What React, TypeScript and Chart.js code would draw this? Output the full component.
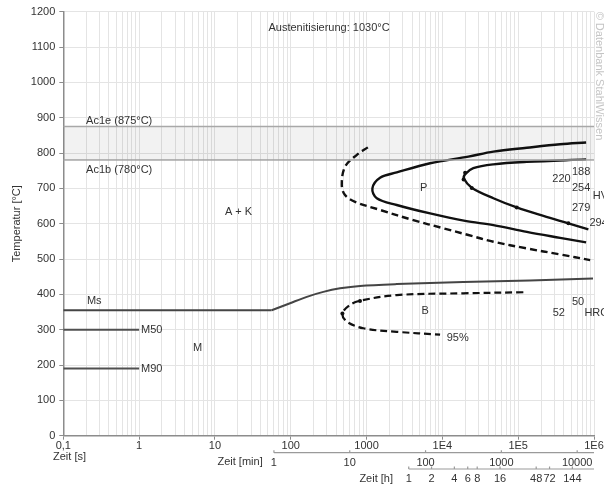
import React, { useEffect, useRef } from 'react';
import { Chart, registerables } from 'chart.js';
Chart.register(...registerables);

// ---- axis labels ----
const xLabelValues = [0.1, 1, 10, 100, 1000, 1e4, 1e5, 1e6];
const xLabelTexts = ['0,1', '1', '10', '100', '1000', '1E4', '1E5', '1E6'];
const minuteTicks = [1, 10, 100, 1000, 10000];
const hourTicks = [1, 2, 4, 6, 8, 16, 48, 72, 144];

// ---- reference temperatures ----
const ac1e = 875;
const ac1b = 780;
const m50 = 300;
const m90 = 190;

// ---- curves: [time s, temperature °C] ----
const msFlat = [[0.1, 355], [56, 355]];
const msRise = [[56, 355], [98, 375], [163, 393], [269, 407], [447, 417], [820, 424], [2500, 429], [18900, 435], [143000, 439], [970000, 445]];
const pearliteStartDashed = [[1040, 816], [745, 795], [520, 761], [471, 710], [520, 681], [705, 662], [1507, 639], [4140, 610], [10300, 587], [22000, 568], [47100, 549], [130000, 530], [357000, 513], [890000, 497]];
const pearliteOuter = [[787000, 830], [357000, 825], [130000, 815], [47100, 804], [22000, 790], [6890, 771], [2500, 745], [1507, 730], [1194, 700], [1365, 672], [2500, 653], [6890, 629], [19950, 608], [47100, 596], [130000, 577], [357000, 560], [787000, 547]];
const pearliteInner = [[787000, 782], [130000, 775], [47100, 768], [25600, 757], [19950, 740], [19300, 727], [24400, 702], [47100, 672], [95700, 646], [215000, 622], [459000, 601], [843000, 584]];
const pearliteMarkers = [[19950, 744], [19050, 725], [24400, 701], [95700, 646], [459000, 601]];
const bainite = [[117000, 406], [18900, 403], [2500, 398], [820, 382], [606, 370], [480, 346], [548, 323], [907, 304], [2500, 294], [9330, 286]];
const bainiteMarkers = [[820, 381], [480, 346]];

// ---- annotations: text, time, temperature, align ----
const annotations: [string, number, number, CanvasTextAlign][] = [
  ['Austenitisierung: 1030°C', 320, 1154, 'center'],
  ['Ac1e (875°C)', 0.2, 891, 'left'],
  ['Ac1b (780°C)', 0.2, 752, 'left'],
  ['Ms', 0.205, 382, 'left'],
  ['M50', 1.06, 300, 'left'],
  ['M90', 1.06, 190, 'left'],
  ['M', 5.14, 247, 'left'],
  ['A + K', 20.5, 634, 'center'],
  ['P', 5650, 702, 'center'],
  ['B', 5920, 353, 'center'],
  ['95%', 11400, 278, 'left'],
  ['188', 676000, 745, 'center'],
  ['220', 372000, 726, 'center'],
  ['254', 676000, 700, 'center'],
  ['HV', 964000, 679, 'left'],
  ['279', 676000, 645, 'center'],
  ['294', 869000, 601, 'left'],
  ['50', 617000, 379, 'center'],
  ['52', 344000, 346, 'center'],
  ['HRC', 747000, 346, 'left'],
];

const FONT_FAMILY = '"Liberation Sans", Arial, Helvetica, sans-serif';
const FONT = '11px ' + FONT_FAMILY;

const gridValues: number[] = [];
for (let e = -1; e < 6; e++) {
  for (let k = 1; k <= 9; k++) gridValues.push(Number((k * Math.pow(10, e)).toPrecision(6)));
}
gridValues.push(1e6);

const labelIndex = (v: number) => xLabelValues.findIndex((l) => Math.abs(l - v) / l < 1e-6);

const pts = (a: number[][]) => a.map(([x, y]) => ({ x, y }));

const overlay = {
  id: 'overlay',
  afterDraw(chart: any) {
    const { ctx, chartArea } = chart;
    const xs = chart.scales.x;
    const ys = chart.scales.y;
    ctx.save();
    ctx.font = FONT;
    ctx.fillStyle = '#333';
    ctx.textBaseline = 'middle';
    for (const [text, t, T, align] of annotations) {
      ctx.textAlign = align;
      ctx.fillText(text, xs.getPixelForValue(t), ys.getPixelForValue(T));
    }

    // y title
    ctx.save();
    ctx.translate(17, (chartArea.top + chartArea.bottom) / 2);
    ctx.rotate(-Math.PI / 2);
    ctx.textAlign = 'center';
    ctx.fillText('Temperatur [°C]', 0, 0);
    ctx.restore();

    // x titles
    ctx.textAlign = 'left';
    ctx.fillText('Zeit [s]', 53, chartArea.bottom + 21.5);

    // minutes axis
    const minY = chartArea.bottom + 17;
    ctx.strokeStyle = '#9a9a9a';
    ctx.lineWidth = 1.2;
    ctx.beginPath();
    ctx.moveTo(xs.getPixelForValue(60), minY);
    ctx.lineTo(chartArea.right, minY);
    ctx.stroke();
    ctx.textAlign = 'center';
    for (const m of minuteTicks) {
      const px = xs.getPixelForValue(m * 60);
      ctx.beginPath();
      ctx.moveTo(px, minY - 2.5);
      ctx.lineTo(px, minY);
      ctx.stroke();
      ctx.fillText(String(m), px, minY + 10);
    }
    ctx.textAlign = 'right';
    ctx.fillText('Zeit [min]', 262.7, minY + 9);

    // hours axis
    const hY = chartArea.bottom + 33.3;
    ctx.beginPath();
    ctx.moveTo(xs.getPixelForValue(3600), hY);
    ctx.lineTo(chartArea.right, hY);
    ctx.stroke();
    ctx.textAlign = 'center';
    for (const h of hourTicks) {
      const px = xs.getPixelForValue(h * 3600);
      ctx.beginPath();
      ctx.moveTo(px, hY - 2.5);
      ctx.lineTo(px, hY);
      ctx.stroke();
      ctx.fillText(String(h), px, hY + 10);
    }
    ctx.textAlign = 'right';
    ctx.fillText('Zeit [h]', 393, hY + 10);

    // watermark
    ctx.save();
    ctx.translate(chartArea.right + 5.5, chartArea.top);
    ctx.rotate(Math.PI / 2);
    ctx.textAlign = 'left';
    ctx.fillStyle = '#c4c4c4';
    ctx.fillText('© Datenbank StahlWissen', 0, 0);
    ctx.restore();

    ctx.restore();
  },
};

export default function App() {
  const ref = useRef<HTMLCanvasElement>(null);
  useEffect(() => {
    if (!ref.current) return;
    const black = '#111';
    const dash = [7, 4];
    const line = (data: number[][], color: string, width: number, extra: any = {}) => ({
      data: pts(data),
      borderColor: color,
      borderWidth: width,
      pointRadius: 0,
      tension: 0.35,
      fill: false,
      ...extra,
    });
    const chart = new Chart(ref.current, {
      type: 'line',
      data: {
        datasets: [
          line([[0.1, ac1e], [1e6, ac1e]], '#a8a8a8', 1.5, { tension: 0, fill: '+1', backgroundColor: 'rgba(0,0,0,0.05)' }),
          line([[0.1, ac1b], [1e6, ac1b]], '#a8a8a8', 1.5, { tension: 0 }),
          line(msFlat, '#454545', 2, { tension: 0 }),
          line(msRise, '#454545', 2, { tension: 0.3 }),
          line([[0.1, m50], [1, m50]], '#505050', 2, { tension: 0 }),
          line([[0.1, m90], [1, m90]], '#505050', 2, { tension: 0 }),
          line(pearliteStartDashed, black, 2.4, { borderDash: dash }),
          line(pearliteOuter, black, 2.4),
          line(pearliteInner, black, 2.4),
          line(bainite, black, 2.2, { borderDash: dash }),
          { data: pts(pearliteMarkers), showLine: false, pointRadius: 2, pointBackgroundColor: black, pointBorderWidth: 0, borderColor: black },
          { data: pts(bainiteMarkers), showLine: false, pointRadius: 2, pointBackgroundColor: black, pointBorderWidth: 0, borderColor: black },
        ] as any,
      },
      options: {
        animation: false,
        responsive: false,
        devicePixelRatio: 1,
        layout: { padding: { left: 0, top: 11.7, right: 10, bottom: 0 } },
        plugins: { legend: { display: false }, tooltip: { enabled: false } },
        scales: {
          x: {
            type: 'logarithmic',
            min: 0.1,
            max: 1e6,
            afterBuildTicks: (s: any) => {
              s.ticks = gridValues.map((v) => ({ value: v }));
            },
            afterFit: (s: any) => {
              s.height = 51.3;
            },
            grid: {
              color: '#e4e4e4',
              lineWidth: 1,
              tickLength: 4,
              tickColor: (c: any) => (c.tick && labelIndex(c.tick.value) >= 0 ? '#8c8c8c' : 'rgba(0,0,0,0)'),
            },
            border: { color: '#8c8c8c', width: 1.5 },
            ticks: {
              autoSkip: false,
              maxRotation: 0,
              minRotation: 0,
              padding: 0,
              color: '#333',
              font: { family: FONT_FAMILY, size: 11 },
              callback: (v: any) => {
                const i = labelIndex(Number(v));
                return i >= 0 ? xLabelTexts[i] : '';
              },
            },
          },
          y: {
            type: 'linear',
            min: 0,
            max: 1200,
            afterFit: (s: any) => {
              s.width = 63.3;
            },
            grid: { color: '#e4e4e4', lineWidth: 1, tickLength: 4, tickColor: '#8c8c8c' },
            border: { color: '#8c8c8c', width: 1.5 },
            ticks: {
              stepSize: 100,
              padding: 4,
              color: '#333',
              font: { family: FONT_FAMILY, size: 11 },
              callback: (v: any) => String(v),
            },
          },
        },
      } as any,
      plugins: [overlay],
    });
    return () => chart.destroy();
  }, []);
  return (
    <div style={{ position: 'absolute', left: 0, top: 0, width: 604, height: 487 }}>
      <canvas ref={ref} width={604} height={487} style={{ width: 604, height: 487 }} />
    </div>
  );
}
